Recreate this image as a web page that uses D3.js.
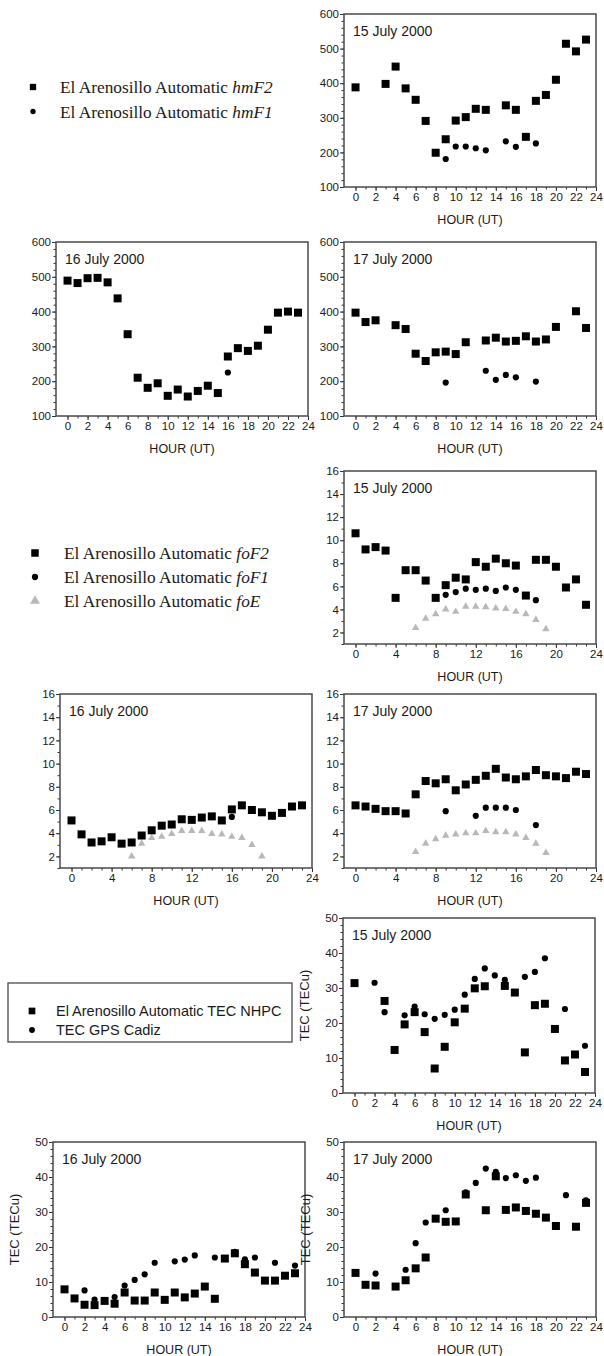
<!DOCTYPE html>
<html>
<head>
<meta charset="utf-8">
<script src="https://cdn.jsdelivr.net/npm/d3@7"></script>
<style>
body { margin: 0; background: #fff; }
svg { display: block; }
</style>
</head>
<body>
<svg id="fig"></svg>
<script>
var width = 604;
var height = 1356;

// values per hour 0..23, null = no measurement
var hmF2_15 = [388, null, null, 398, 448, 385, 352, 291, 199, 238, 292, 302, 326, 323, null, 336, 323, 245, 349, 366, 410, 514, 492, 526];
var hmF1_15 = [null, null, null, null, null, null, null, null, null, 181, 217, 217, 212, 206, null, 232, 216, null, 226, null, null, null, null, null];
var hmF2_16 = [489, 482, 496, 497, 484, 438, 335, 210, 181, 194, 158, 176, 156, 172, 187, 166, 271, 295, 287, 302, 348, 397, 400, 397];
var hmF1_16 = [null, null, null, null, null, null, null, null, null, null, null, null, null, null, null, null, 225, null, null, null, null, null, null, null];
var hmF2_17 = [397, 370, 375, null, 361, 350, 279, 258, 283, 285, 278, 312, null, 317, 325, 314, 316, 329, 314, 320, 356, null, 401, 353];
var hmF1_17 = [null, null, null, null, null, null, null, null, null, 196, null, null, null, 230, 204, 218, 211, null, 199, null, null, null, null, null];

var foF2_15 = [10.6, 9.2, 9.4, 9.1, 5.0, 7.4, 7.4, 6.5, 5.0, 6.1, 6.75, 6.6, 8.1, 7.7, 8.4, 8.0, 7.8, 5.2, 8.3, 8.3, 7.7, 5.9, 6.6, 4.4];
var foF1_15 = [null, null, null, null, null, null, null, null, null, 5.26, 5.5, 5.8, 5.7, 5.8, 5.6, 5.9, 5.7, null, 4.8, null, null, null, null, null];
var foE_15 = [null, null, null, null, null, null, 2.4, 3.2, 3.6, 4.0, 3.8, 4.25, 4.25, 4.2, 4.1, 4.05, 3.8, 3.6, 3.1, 2.3, null, null, null, null];
var foF2_16 = [5.1, 3.9, 3.2, 3.3, 3.65, 3.1, 3.2, 3.8, 4.25, 4.65, 4.75, 5.2, 5.15, 5.35, 5.45, 5.1, 6.05, 6.4, 6.0, 5.8, 5.5, 5.75, 6.3, 6.4];
var foF1_16 = [null, null, null, null, null, null, null, null, null, null, null, null, null, null, null, null, 5.4, null, null, null, null, null, null, null];
var foE_16 = [null, null, null, null, null, null, 2.0, 3.1, 3.6, 3.7, 3.95, 4.2, 4.2, 4.2, 3.95, 3.9, 3.7, 3.6, 3.0, 2.0, null, null, null, null];
var foF2_17 = [6.4, 6.3, 6.1, 5.9, 5.9, 5.7, 7.35, 8.5, 8.3, 8.65, 7.7, 8.2, 8.6, 8.95, 9.55, 8.8, 8.65, 8.9, 9.45, 9.0, 8.9, 8.75, 9.3, 9.1];
var foF1_17 = [null, null, null, null, null, null, null, null, null, 5.9, null, null, 5.5, 6.2, 6.2, 6.2, 6.0, null, 4.7, null, null, null, null, null];
var foE_17 = [null, null, null, null, null, null, 2.4, 3.1, 3.5, 3.8, 3.9, 4.0, 4.0, 4.2, 4.1, 4.1, 3.9, 3.6, 3.1, 2.3, null, null, null, null];

var tecNhpc_15 = [31.4, null, null, 26.3, 12.3, 19.6, 23.1, 17.4, 7.0, 13.2, 20.2, 24.1, 29.9, 30.5, null, 30.6, 28.7, 11.6, 25.1, 25.5, 18.3, 9.3, 11.0, 6.0];
var tecGps_15 = [null, null, 31.5, 23.1, null, 22.2, 24.7, 22.5, 21.2, 22.3, 23.8, 28.1, 32.6, 35.6, 33.6, 32.3, null, 33.2, 34.6, 38.5, null, 24.0, null, 13.5];
var tecNhpc_16 = [7.9, 5.3, 3.5, 3.4, 4.6, 3.8, 7.0, 4.7, 4.7, 7.0, 4.9, 7.0, 5.6, 6.7, 8.7, 5.2, 16.7, 18.2, 15.1, 12.7, 10.4, 10.4, 11.8, 12.5];
var tecGps_16 = [null, null, 7.6, 5.0, null, 5.7, 9.0, 10.6, 12.2, 15.5, null, 15.9, 16.4, 17.6, null, 17.0, null, 18.6, 16.5, 17.0, null, 15.5, null, 14.7];
var tecNhpc_17 = [12.6, 9.2, 9.0, null, 8.7, 10.5, 13.9, 17.0, 28.1, 27.2, 27.3, 35.0, null, 30.5, 40.2, 30.6, 31.3, 30.3, 29.5, 28.4, 26.0, null, 25.8, 32.6];
var tecGps_17 = [null, null, 12.4, null, null, 13.5, 21.1, 27.0, null, 30.5, null, 35.6, 38.3, 42.4, 41.5, 39.7, 40.5, 38.9, 39.8, null, null, 34.8, null, 33.3];

var hmLegend = [["El Arenosillo Automatic ", "hmF2", "square"], ["El Arenosillo Automatic ", "hmF1", "circle"]];
var foLegend = [["El Arenosillo Automatic ", "foF2", "square"], ["El Arenosillo Automatic ", "foF1", "circle"], ["El Arenosillo Automatic ", "foE", "triangle"]];
var tecLegend = [["El Arenosillo Automatic TEC NHPC", "square"], ["TEC GPS Cadiz", "circle"]];

var sans = "'Liberation Sans', Arial, Helvetica, sans-serif";
var serif = "'Liberation Serif', 'Times New Roman', serif";
var grey = "#b8b8b8";

var svg = d3.select("#fig").attr("width", width).attr("height", height);

var symbols = {
    square: d3.symbol().type(d3.symbolSquare).size(64),
    circle: d3.symbol().type(d3.symbolCircle).size(30),
    triangle: d3.symbol().type(d3.symbolTriangle).size(24)
};

function drawPanel(p) {
    var pw = 252;
    var x = d3.scaleLinear().domain([-1.15, 24]).range([p.left, p.left + pw]);
    var y = d3.scaleLinear().domain(p.yDomain).range([p.top + p.h, p.top]);
    var g = svg.append("g");

    // minor ticks
    g.append("g").attr("transform", "translate(0," + (p.top + p.h) + ")")
        .call(d3.axisBottom(x).tickValues(d3.range(0, 25, 1)).tickSize(2.5).tickFormat(""));
    g.append("g").attr("transform", "translate(" + p.left + ",0)")
        .call(d3.axisLeft(y).tickValues(d3.range(p.yDomain[0], p.yDomain[1] + 0.001, p.yMinor)).tickSize(2.5).tickFormat(""));
    // major ticks + labels
    g.append("g").attr("class", "ax").attr("transform", "translate(0," + (p.top + p.h) + ")")
        .call(d3.axisBottom(x).tickValues(d3.range(0, 25, p.xStep)).tickSize(4).tickPadding(2));
    g.append("g").attr("class", "ax").attr("transform", "translate(" + p.left + ",0)")
        .call(d3.axisLeft(y).tickValues(p.yTicks).tickSize(4).tickPadding(1));
    g.selectAll(".domain").remove();
    g.selectAll(".tick line").attr("stroke", "#333");
    g.selectAll(".ax text").attr("font-family", sans).attr("font-size", 11.5).attr("fill", "#1a1a1a");

    g.append("rect")
        .attr("x", p.left).attr("y", p.top).attr("width", pw).attr("height", p.h)
        .attr("fill", "none").attr("stroke", "#4a4a4a").attr("stroke-width", 1.5);

    g.append("text").attr("x", p.left + 9).attr("y", p.top + 22)
        .attr("font-family", sans).attr("font-size", 14).attr("fill", "#1a1a1a")
        .text(p.title);
    g.append("text").attr("x", p.left + pw / 2).attr("y", p.top + p.h + 37)
        .attr("text-anchor", "middle").attr("font-family", sans).attr("font-size", 12.5).attr("fill", "#1a1a1a")
        .text("HOUR (UT)");
    if (p.yLabel) {
        g.append("text")
            .attr("transform", "translate(" + (p.left - 34) + "," + (p.top + p.h / 2) + ") rotate(-90)")
            .attr("text-anchor", "middle").attr("font-family", sans).attr("font-size", 13).attr("fill", "#1a1a1a")
            .text(p.yLabel);
    }

    p.series.forEach(function(s) {
        var pts = s.values.map(function(v, i) { return {hour: i, v: v}; })
            .filter(function(d) { return d.v != null; });
        g.append("g").selectAll("path")
            .data(pts)
            .enter()
            .append("path")
            .attr("d", symbols[s.shape])
            .attr("transform", function(d) { return "translate(" + x(d.hour) + "," + y(d.v) + ")"; })
            .attr("fill", s.color);
    });
}

var hmY = {yDomain: [100, 600], yTicks: d3.range(100, 601, 100), yMinor: 20, xStep: 2};
var foY = {yDomain: [1, 16], yTicks: d3.range(2, 17, 2), yMinor: 1, xStep: 4};
var tecY = {yDomain: [0, 50], yTicks: d3.range(0, 51, 10), yMinor: 2, xStep: 2, yLabel: "TEC (TECu)"};

var panels = [
    Object.assign({left: 344, top: 14, h: 173, title: "15 July 2000",
        series: [{values: hmF2_15, shape: "square", color: "#000"}, {values: hmF1_15, shape: "circle", color: "#000"}]}, hmY),
    Object.assign({left: 56, top: 242, h: 174, title: "16 July 2000",
        series: [{values: hmF2_16, shape: "square", color: "#000"}, {values: hmF1_16, shape: "circle", color: "#000"}]}, hmY),
    Object.assign({left: 344, top: 242, h: 174, title: "17 July 2000",
        series: [{values: hmF2_17, shape: "square", color: "#000"}, {values: hmF1_17, shape: "circle", color: "#000"}]}, hmY),
    Object.assign({left: 344, top: 471, h: 173, title: "15 July 2000",
        series: [{values: foE_15, shape: "triangle", color: grey}, {values: foF2_15, shape: "square", color: "#000"}, {values: foF1_15, shape: "circle", color: "#000"}]}, foY),
    Object.assign({left: 60, top: 694, h: 174, title: "16 July 2000",
        series: [{values: foE_16, shape: "triangle", color: grey}, {values: foF2_16, shape: "square", color: "#000"}, {values: foF1_16, shape: "circle", color: "#000"}]}, foY),
    Object.assign({left: 344, top: 694, h: 174, title: "17 July 2000",
        series: [{values: foE_17, shape: "triangle", color: grey}, {values: foF2_17, shape: "square", color: "#000"}, {values: foF1_17, shape: "circle", color: "#000"}]}, foY),
    Object.assign({left: 343, top: 918, h: 175, title: "15 July 2000",
        series: [{values: tecGps_15, shape: "circle", color: "#000"}, {values: tecNhpc_15, shape: "square", color: "#000"}]}, tecY),
    Object.assign({left: 53, top: 1142, h: 175, title: "16 July 2000",
        series: [{values: tecGps_16, shape: "circle", color: "#000"}, {values: tecNhpc_16, shape: "square", color: "#000"}]}, tecY),
    Object.assign({left: 344, top: 1142, h: 175, title: "17 July 2000",
        series: [{values: tecGps_17, shape: "circle", color: "#000"}, {values: tecNhpc_17, shape: "square", color: "#000"}]}, tecY)
];
panels.forEach(drawPanel);

// legends (serif ones with italic parameter names)
function serifLegend(items, mx, tx, y0, dy, markScale) {
    var g = svg.append("g");
    items.forEach(function(it, i) {
        var cy = y0 + i * dy;
        g.append("path")
            .attr("d", d3.symbol().type(it[2] == "square" ? d3.symbolSquare : it[2] == "circle" ? d3.symbolCircle : d3.symbolTriangle)
                .size(it[2] == "square" ? 40 * markScale : it[2] == "circle" ? 22 * markScale : 30 * markScale))
            .attr("transform", "translate(" + mx + "," + cy + ")")
            .attr("fill", it[2] == "triangle" ? grey : "#000");
        var t = g.append("text").attr("x", tx).attr("y", cy + 6)
            .attr("font-family", serif).attr("font-size", 17.3).attr("fill", "#1a1a1a");
        t.append("tspan").text(it[0]);
        t.append("tspan").attr("font-style", "italic").text(it[1]);
    });
}
serifLegend(hmLegend, 33, 60, 87, 24.5, 1);
serifLegend(foLegend, 35, 64, 553, 24, 1.4);

var tl = svg.append("g");
tl.append("rect").attr("x", 8).attr("y", 983).attr("width", 284).attr("height", 59)
    .attr("fill", "none").attr("stroke", "#4a4a4a").attr("stroke-width", 1.3);
tecLegend.forEach(function(it, i) {
    var cy = 1011 + i * 19;
    tl.append("path")
        .attr("d", d3.symbol().type(it[1] == "square" ? d3.symbolSquare : d3.symbolCircle).size(it[1] == "square" ? 45 : 26))
        .attr("transform", "translate(32," + cy + ")")
        .attr("fill", "#000");
    tl.append("text").attr("x", 56).attr("y", cy + 5)
        .attr("font-family", sans).attr("font-size", 14.5).attr("fill", "#1a1a1a")
        .text(it[0]);
});
</script>
</body>
</html>
